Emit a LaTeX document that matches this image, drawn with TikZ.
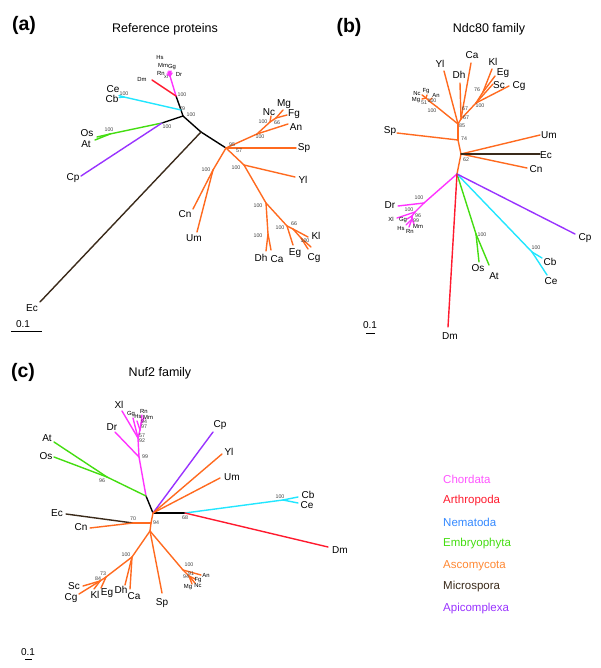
\documentclass[tikz,border=0pt]{standalone}
\usepackage{fontspec}
\setmainfont{Liberation Sans}
\usetikzlibrary{positioning}

\definecolor{chor}{HTML}{FF33FF}
\definecolor{arth}{HTML}{FF1A2E}
\definecolor{nema}{HTML}{22E6FF}
\definecolor{embr}{HTML}{44DD11}
\definecolor{asco}{HTML}{FF6A1F}
\definecolor{micr}{HTML}{3A2A1A}
\definecolor{apic}{HTML}{9933FF}
\definecolor{chorleg}{HTML}{FF55FF}
\definecolor{nemaleg}{HTML}{3388FF}
\definecolor{ascoleg}{HTML}{FF8833}

\begin{document}
\begin{tikzpicture}[x=1pt, y=-1pt,
  every node/.style={inner sep=0pt},
  leaf/.style={font=\fontsize{10}{10}\selectfont},
  wee/.style={font=\fontsize{5.9}{5.9}\selectfont},
  boot/.style={font=\fontsize{5.3}{5.3}\selectfont, text=black!75},
  panel/.style={font=\fontsize{19.5}{19.5}\selectfont\bfseries},
  title/.style={font=\fontsize{12.5}{12.5}\selectfont},
  taxon/.style={font=\fontsize{11.5}{11.5}\selectfont, anchor=west},
  br/.style={line width=1.4pt, line cap=round},
  node distance=21.6pt
]
\useasboundingbox (0,0) rectangle (600,668);

%% (a) reference proteins
\node[panel] (pa) at (24,25) {(a)};
\node[title] (ta) at (165,29) {Reference proteins};

\foreach \n/\x/\y in {a-r/183/116, a-nm/181/110, a-ch/176/96, a-ve/170/76,
    a-hs/168/72, a-mm/169/71, a-gg/171/71, a-rn/167/74, a-dr/172/73,
    a-dm/152/80, a-nn/124/97, a-ce/119/95.5, a-cb/119/97.5, a-pl/162/123,
    a-pg/110/134, a-os/97/137, a-at/95/140, a-cp/81/176, a-mi/201/132,
    a-ec/40/302, a-as/226/148, a-sp/296/148, a-f1/257/134, a-f2/270/122,
    a-f3/276/118, a-nc/271/116, a-mg/283/110, a-fg/287/115, a-an/288/124,
    a-cu/213/170, a-cn/193/209, a-um/197/232, a-y/244/165, a-yl/295/177,
    a-s1/266/203, a-dc/268/234, a-dh/266/251, a-ca/271/250, a-s2/287/226,
    a-s3/293/229, a-kl/308/237, a-eg/293/245, a-s4/301/238, a-cg/308/249,
    a-sc/311/247}
  \coordinate (\n) at (\x,\y);

\foreach \u/\v in {a-r/a-nm, a-nm/a-ch, a-r/a-pl, a-r/a-mi, a-mi/a-as}
  \draw[br, black] (\u) -- (\v);
\foreach \u/\v in {a-ch/a-ve, a-ve/a-hs, a-ve/a-mm, a-ve/a-gg, a-ve/a-rn, a-ve/a-dr}
  \draw[br, chor] (\u) -- (\v);
\draw[br, arth] (a-ch) -- (a-dm);
\foreach \u/\v in {a-nm/a-nn, a-nn/a-ce, a-nn/a-cb}
  \draw[br, nema] (\u) -- (\v);
\foreach \u/\v in {a-pl/a-pg, a-pg/a-os, a-pg/a-at}
  \draw[br, embr] (\u) -- (\v);
\draw[br, apic] (a-pl) -- (a-cp);
\draw[br, micr] (a-mi) -- (a-ec);
\foreach \u/\v in {a-as/a-sp, a-as/a-f1, a-f1/a-an, a-f1/a-f2, a-f2/a-nc,
    a-f2/a-f3, a-f3/a-mg, a-f3/a-fg, a-as/a-cu, a-cu/a-cn, a-cu/a-um,
    a-as/a-y, a-y/a-yl, a-y/a-s1, a-s1/a-dc, a-dc/a-dh, a-dc/a-ca,
    a-s1/a-s2, a-s2/a-s3, a-s3/a-kl, a-s2/a-eg, a-s3/a-s4, a-s4/a-cg, a-s4/a-sc}
  \draw[br, asco] (\u) -- (\v);

\foreach \n/\x/\y/\t in {la-ce/113/89/Ce, la-cb/112/99/Cb, la-os/87/133/Os,
    la-at/86/144/At, la-cp/73/178/Cp, la-ec/32/308/Ec, la-nc/269/112/Nc,
    la-mg/284/104/Mg, la-fg/294/114/Fg, la-an/296/127/An, la-sp/304/148/Sp,
    la-yl/303/180/Yl, la-cn/185/214/Cn, la-um/194/238/Um, la-dh/261/258/Dh,
    la-ca/277/259/Ca, la-eg/295/253/Eg, la-cg/314/258/Cg, la-kl/316/236/Kl}
  \node[leaf] (\n) at (\x,\y) {\t};
\foreach \n/\x/\y/\t in {la-hs/160/58/Hs, la-mm/163/65/Mm, la-gg/172/67/Gg,
    la-rn/161/73/Rn, la-dr/179/74/Dr, la-dm/142/79/Dm}
  \node[wee] (\n) at (\x,\y) {\t};
\node[font=\fontsize{4}{4}\selectfont] (la-xl) at (166,77) {Xl};
\foreach \x/\y/\t [count=\i] in {182/95/100, 182/109/79, 191/115/100,
    124/94/100, 109/130/100, 167/127/100, 232/145/95, 239/151/57,
    260/137/100, 263/122/100, 277/123/66, 206/170/100, 236/168/100,
    258/206/100, 258/236/100, 280/228/100, 294/224/66, 305/241/100}
  \node[boot] (ba\i) at (\x,\y) {\t};

\coordinate (sa1) at (11,331);
\coordinate (sa2) at (42,331);
\draw[line width=1pt] (sa1) -- (sa2);
\node[leaf] (sa) at (23,324) {0.1};

%% (b) Ndc80 family
\node[panel] (pb) at (349,27) {(b)};
\node[title] (tb) at (489,29) {Ndc80 family};

\foreach \n/\x/\y in {b-r/457/174, b-n62/461/154, b-um/540/135, b-ec/540/154,
    b-cn/527/168, b-n74/458/140, b-sp/397/133, b-n85/458/124, b-yl/444/71,
    b-f1/437/107, b-f2/429/101, b-f3/426/98, b-nc/422/95, b-fg/427/95,
    b-mg/422/99, b-an/432/98, b-n67/461/119, b-dh/460/83, b-n67b/462/113,
    b-ca/471/63, b-k1/476/103, b-k2/483/92, b-kl/492/69, b-eg/495/76,
    b-sc/493/84, b-cg/509/86, b-ch1/424/203, b-dr/398/206, b-ch2/415/212,
    b-xl/397/218, b-ch3/412/216, b-gg/407/219, b-ch4/412/219, b-hs/406/225,
    b-rn/409/227, b-mm/414/224, b-pg/476/234, b-os/479/262, b-at/489/265,
    b-nn/532/252, b-cb/542/258, b-ce/547/275, b-cp/575/234, b-dm/448/327}
  \coordinate (\n) at (\x,\y);

\foreach \u/\v in {b-r/b-n62, b-n62/b-um, b-n62/b-cn, b-n62/b-n74, b-n74/b-sp,
    b-n74/b-n85, b-n85/b-yl, b-n85/b-f1, b-f1/b-f2, b-f2/b-f3, b-f3/b-nc,
    b-f3/b-fg, b-f3/b-mg, b-f2/b-an, b-n85/b-n67, b-n67/b-dh, b-n67/b-n67b,
    b-n67b/b-ca, b-n67/b-k1, b-k1/b-k2, b-k2/b-kl, b-k2/b-eg, b-k1/b-sc,
    b-k1/b-cg}
  \draw[br, asco] (\u) -- (\v);
\draw[br, micr] (b-n62) -- (b-ec);
\foreach \u/\v in {b-r/b-ch1, b-ch1/b-dr, b-ch1/b-ch2, b-ch2/b-xl, b-ch2/b-ch3,
    b-ch3/b-gg, b-ch3/b-ch4, b-ch4/b-hs, b-ch4/b-rn, b-ch4/b-mm}
  \draw[br, chor] (\u) -- (\v);
\foreach \u/\v in {b-r/b-pg, b-pg/b-os, b-pg/b-at}
  \draw[br, embr] (\u) -- (\v);
\foreach \u/\v in {b-r/b-nn, b-nn/b-cb, b-nn/b-ce}
  \draw[br, nema] (\u) -- (\v);
\draw[br, apic] (b-r) -- (b-cp);
\draw[br, arth] (b-r) -- (b-dm);

\foreach \n/\x/\y/\t in {lb-yl/440/64/Yl, lb-ca/472/55/Ca, lb-dh/459/75/Dh,
    lb-kl/493/62/Kl, lb-eg/503/73/Eg, lb-sc/499/85/Sc, lb-cg/519/86/Cg,
    lb-sp/390/131/Sp, lb-um/549/135/Um, lb-ec/546/155/Ec, lb-cn/536/169/Cn,
    lb-dr/390/205/Dr, lb-os/478/268/Os, lb-at/494/276/At, lb-cb/550/262/Cb,
    lb-ce/551/281/Ce, lb-cp/585/238/Cp, lb-dm/450/336/Dm}
  \node[leaf] (\n) at (\x,\y) {\t};
\foreach \n/\x/\y/\t in {lb-nc/417/94/Nc, lb-fg/426/91/Fg, lb-an/436/95/An,
    lb-mg/416/100/Mg, lb-xl/391/219/Xl, lb-gg/403/220/Gg, lb-hs/401/228/Hs,
    lb-rn/410/231/Rn, lb-mm/418/226/Mm}
  \node[wee] (\n) at (\x,\y) {\t};
\foreach \x/\y/\t [count=\i] in {432/101/100, 424/103/51, 432/111/100,
    465/109/67, 466/118/67, 462/126/85, 464/139/74, 466/160/62, 477/90/76,
    480/106/100, 419/198/100, 409/210/100, 418/216/96, 416/221/99,
    482/235/100, 536/248/100}
  \node[boot] (bb\i) at (\x,\y) {\t};

\coordinate (sb1) at (366,333);
\coordinate (sb2) at (375,333);
\draw[line width=1pt] (sb1) -- (sb2);
\node[leaf] (sb) at (370,325) {0.1};

%% (c) Nuf2 family
\node[panel] (pc) at (23,372) {(c)};
\node[title] (tc) at (160,373) {Nuf2 family};

\foreach \n/\x/\y in {c-r/153/513, c-n1/146/496, c-ch/139/457, c-dr/115/432,
    c-ch2/138/438, c-xl/122/411, c-gg/133/418, c-ch3/140/430, c-hs/137/421,
    c-ch4/141/424, c-rn/142/415, c-mm/144/418, c-pg/107/477, c-at/54/442,
    c-os/54/457, c-cp/213/432, c-yl/222/454, c-um/220/478, c-n68/185/513,
    c-nn/283/500, c-cb/298/497, c-ce/298/503, c-dm/328/547, c-n94/151/523,
    c-n70/133/523, c-cn/90/528, c-ec/66/514, c-n2/150/531, c-sp/162/593,
    c-f1/183/570, c-an/201/575, c-f2/189/576, c-fg/195/579, c-nc/195/583,
    c-mg/192/584, c-d1/132/557, c-dh/125/585, c-ca/130/589, c-d2/106/577,
    c-eg/101/588, c-d3/100/581, c-kl/94/589, c-sc/83/586, c-cg/79/594}
  \coordinate (\n) at (\x,\y);

\foreach \u/\v in {c-r/c-n1, c-r/c-n68}
  \draw[br, black] (\u) -- (\v);
\foreach \u/\v in {c-n1/c-ch, c-ch/c-dr, c-ch/c-ch2, c-ch2/c-xl, c-ch2/c-gg,
    c-ch2/c-ch3, c-ch3/c-hs, c-ch3/c-ch4, c-ch4/c-rn, c-ch4/c-mm}
  \draw[br, chor] (\u) -- (\v);
\foreach \u/\v in {c-n1/c-pg, c-pg/c-at, c-pg/c-os}
  \draw[br, embr] (\u) -- (\v);
\draw[br, apic] (c-r) -- (c-cp);
\foreach \u/\v in {c-n68/c-nn, c-nn/c-cb, c-nn/c-ce}
  \draw[br, nema] (\u) -- (\v);
\draw[br, arth] (c-n68) -- (c-dm);
\draw[br, micr] (c-n70) -- (c-ec);
\foreach \u/\v in {c-r/c-yl, c-r/c-um, c-r/c-n94, c-n94/c-n70, c-n70/c-cn,
    c-n94/c-n2, c-n2/c-sp, c-n2/c-f1, c-f1/c-an, c-f1/c-f2, c-f2/c-fg,
    c-f2/c-nc, c-f2/c-mg, c-n2/c-d1, c-d1/c-dh, c-d1/c-ca, c-d1/c-d2,
    c-d2/c-eg, c-d2/c-d3, c-d3/c-kl, c-d3/c-sc, c-d3/c-cg}
  \draw[br, asco] (\u) -- (\v);

\foreach \n/\x/\y/\t in {lc-xl/119/405/Xl, lc-dr/112/427/Dr, lc-at/47/438/At,
    lc-os/46/456/Os, lc-cp/220/425/Cp, lc-yl/229/452/Yl, lc-um/232/477/Um,
    lc-cb/308/494.5/Cb, lc-ce/307/505/Ce, lc-dm/340/550/Dm, lc-ec/57/513/Ec,
    lc-cn/81/527/Cn, lc-sp/162/603/Sp, lc-dh/121/590/Dh, lc-ca/134/596/Ca,
    lc-sc/74/586/Sc, lc-cg/71/598/Cg, lc-kl/95/595/Kl, lc-eg/107/593/Eg}
  \node[leaf] (\n) at (\x,\y) {\t};
\foreach \n/\x/\y/\t in {lc-gg/131/414/Gg, lc-hs/138/416/Hs, lc-rn/144/411/Rn,
    lc-mm/148/417/Mm, lc-an/206/575/An, lc-fg/198/580/Fg, lc-nc/198/585/Nc,
    lc-mg/188/587/Mg}
  \node[wee] (\n) at (\x,\y) {\t};
\foreach \x/\y/\t [count=\i] in {145/457/99, 142/436/57, 142/441/92,
    144/422/94, 144/427/97, 102/481/96, 280/497/100, 185/518/68, 133/519/70,
    156/523/94, 189/565/100, 186/577/94, 191/574/91, 126/555/100,
    103/574/73, 98/579/84}
  \node[boot] (bc\i) at (\x,\y) {\t};

\coordinate (sc1) at (25,659);
\coordinate (sc2) at (32,659);
\draw[line width=1pt] (sc1) -- (sc2);
\node[leaf] (sc) at (28,652) {0.1};

%% legend
\node[taxon, text=chorleg] (chor) at (443,479) {Chordata};
\node[taxon, text=arth, below=of chor.west, anchor=west] (arth) {Arthropoda};
\node[taxon, text=nemaleg, below=of arth.west, anchor=west] (nema) {Nematoda};
\node[taxon, text=embr, below=of nema.west, anchor=west] (embr) {Embryophyta};
\node[taxon, text=ascoleg, below=of embr.west, anchor=west] (asco) {Ascomycota};
\node[taxon, text=micr, below=of asco.west, anchor=west] (micr) {Microspora};
\node[taxon, text=apic, below=of micr.west, anchor=west] (apic) {Apicomplexa};
\end{tikzpicture}
\end{document}
